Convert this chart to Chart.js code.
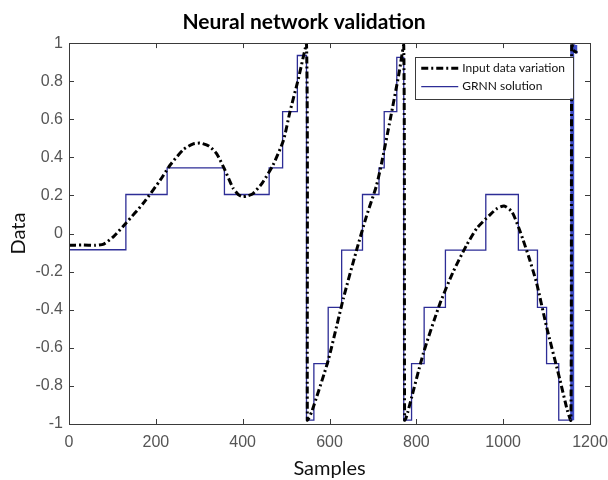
<!DOCTYPE html>
<html>
<head>
<meta charset="utf-8">
<title>Neural network validation</title>
<script src="https://cdn.jsdelivr.net/npm/chart.js@4.4.1/dist/chart.umd.min.js"></script>
<style>
  html, body { margin: 0; padding: 0; background: #fff; }
</style>
</head>
<body>
<canvas id="chart" width="608" height="480"></canvas>
<script>
// ── datos ──
// curva de entrada (línea discontinua negra)
const inputX = [0, 30, 60, 80, 102, 131, 171, 210, 233, 263, 285, 302, 322, 340, 359, 378, 390, 400, 412, 424, 445, 470, 494, 509, 528, 547,
  549, 552, 560, 597, 632, 662, 685, 708, 720, 740, 760, 771,
  773, 776, 780, 816, 854, 885, 916, 940, 969, 985, 1002, 1020, 1035, 1046, 1060, 1077, 1100, 1131, 1148, 1156,
  1158, 1163, 1170];
const inputY = [-0.062, -0.06, -0.062, -0.055, -0.017, 0.054, 0.159, 0.28, 0.36, 0.44, 0.47, 0.475, 0.46, 0.42, 0.334, 0.238, 0.205, 0.194, 0.198, 0.21, 0.265, 0.36, 0.49, 0.64, 0.81, 1.0,
  -0.98, -0.97, -0.93, -0.666, -0.34, -0.09, 0.09, 0.25, 0.37, 0.6, 0.84, 0.99,
  -0.98, -0.97, -0.94, -0.63, -0.37, -0.2, -0.06, 0.03, 0.097, 0.13, 0.145, 0.115, 0.036, -0.034, -0.13, -0.26, -0.49, -0.77, -0.93, -0.98,
  1.0, 0.96, 0.95];

// solución GRNN (escalones azules)
const grnnX = [0, 131, 131, 226, 226, 358, 358, 461, 461, 492, 492, 526, 526, 547, 547, 564, 564, 597, 597, 628, 628, 676, 676, 714, 714, 726, 726, 755, 755, 771,
  771, 789, 789, 818, 818, 867, 867, 960, 960, 1035, 1035, 1079, 1079, 1100, 1100, 1128, 1128, 1159, 1159, 1166, 1166, 1172];
const grnnY = [-0.085, -0.085, 0.205, 0.205, 0.345, 0.345, 0.205, 0.205, 0.345, 0.345, 0.64, 0.64, 0.935, 0.935, -0.98, -0.98, -0.683, -0.683, -0.388, -0.388, -0.087, -0.087, 0.205, 0.205, 0.345, 0.345, 0.64, 0.64, 0.925, 0.925,
  -0.98, -0.98, -0.683, -0.683, -0.388, -0.388, -0.087, -0.087, 0.205, 0.205, -0.087, -0.087, -0.388, -0.388, -0.683, -0.683, -0.98, -0.98, 0.99, 0.99, 0.95, 0.95];

const seriesLabels = ['Input data variation', 'GRNN solution'];
const xRange = [0, 1200];
const yRange = [-1, 1];
const xStep = 200;
const yStep = 0.2;

const toPoints = (xs, ys) => xs.map((x, i) => ({ x, y: ys[i] }));

const AXIS_COLOR = '#3a3a3a';
const TICK_COLOR = '#555';
const BLUE = '#2d2d96';

/* ─── marco y marcas hacia dentro (estilo MATLAB) ─── */
const frameTicks = {
  id: 'frameTicks',
  afterDatasetsDraw(chart) {
    const { ctx, chartArea: a, scales: { x, y } } = chart;
    ctx.save();
    ctx.strokeStyle = AXIS_COLOR;
    ctx.lineWidth = 1;
    ctx.strokeRect(Math.round(a.left) + 0.5, Math.round(a.top) + 0.5, Math.round(a.width), Math.round(a.height));
    const len = 5;
    ctx.beginPath();
    x.ticks.forEach(t => {
      const px = Math.round(x.getPixelForValue(t.value)) + 0.5;
      ctx.moveTo(px, a.bottom); ctx.lineTo(px, a.bottom - len);
      ctx.moveTo(px, a.top); ctx.lineTo(px, a.top + len);
    });
    y.ticks.forEach(t => {
      const py = Math.round(y.getPixelForValue(t.value)) + 0.5;
      ctx.moveTo(a.left, py); ctx.lineTo(a.left + len, py);
      ctx.moveTo(a.right, py); ctx.lineTo(a.right - len, py);
    });
    ctx.stroke();
    ctx.restore();
  }
};

/* ─── leyenda dentro del área, arriba a la derecha ─── */
const boxLegend = {
  id: 'boxLegend',
  afterDraw(chart) {
    const { ctx, chartArea: a } = chart;
    const sets = chart.data.datasets;
    ctx.save();
    ctx.font = '12px Lato';
    const textW = Math.max(...sets.map(d => ctx.measureText(d.label).width));
    const sampleW = 37, rowH = 18.4;
    const w = 6 + sampleW + 4 + textW + 8;
    const h = 5 + rowH * sets.length;
    const right = a.right - 17, top = a.top + 13.5;
    const left = right - w;
    ctx.fillStyle = '#fff';
    ctx.fillRect(left, top, w, h);
    ctx.strokeStyle = AXIS_COLOR;
    ctx.lineWidth = 1;
    ctx.strokeRect(Math.round(left) + 0.5, Math.round(top) + 0.5, Math.round(w), Math.round(h));
    sets.forEach((d, i) => {
      const cy = top + 11.6 + i * rowH;
      ctx.beginPath();
      ctx.strokeStyle = d.borderColor;
      ctx.lineWidth = d.borderWidth;
      ctx.setLineDash(d.borderDash || []);
      ctx.moveTo(left + 6, cy);
      ctx.lineTo(left + 6 + sampleW, cy);
      ctx.stroke();
      ctx.setLineDash([]);
      ctx.fillStyle = '#111';
      ctx.textBaseline = 'middle';
      ctx.fillText(d.label, left + 6 + sampleW + 4, cy);
    });
    ctx.restore();
  }
};

new Chart(document.getElementById('chart'), {
  type: 'scatter',
  data: {
    datasets: [
      {
        label: seriesLabels[0],
        data: toPoints(inputX, inputY),
        showLine: true,
        borderColor: '#000',
        borderWidth: 3,
        borderDash: [7, 3, 2, 3],
        pointRadius: 0,
        tension: 0.2,
        order: 0
      },
      {
        label: seriesLabels[1],
        data: toPoints(grnnX, grnnY),
        showLine: true,
        borderColor: BLUE,
        borderWidth: 1.3,
        pointRadius: 0,
        order: 1,
        segment: {
          borderWidth: c => (c.p0.parsed.x === c.p1.parsed.x && c.p0.parsed.x > 1150 && c.p1.parsed.y > 0.5) ? 4 : undefined,
          borderColor: c => (c.p0.parsed.x === c.p1.parsed.x && c.p0.parsed.x > 1150 && c.p1.parsed.y > 0.5) ? '#3e4cc6' : undefined
        }
      }
    ]
  },
  options: {
    responsive: false,
    animation: false,
    devicePixelRatio: 1,
    layout: { padding: 0 },
    plugins: {
      legend: { display: false },
      tooltip: { enabled: false },
      title: {
        display: true,
        text: 'Neural network validation',
        color: '#000',
        font: { family: 'Lato', size: 21, weight: 'bold', lineHeight: 1.1 },
        padding: { top: 11, bottom: 9 }
      }
    },
    scales: {
      x: {
        type: 'linear',
        min: xRange[0],
        max: xRange[1],
        grid: { display: false, drawTicks: false },
        border: { display: false },
        ticks: {
          stepSize: xStep,
          color: TICK_COLOR,
          padding: 9,
          maxRotation: 0,
          font: { family: 'Liberation Sans', size: 16 },
          callback: v => String(v)
        },
        title: {
          display: true,
          text: 'Samples',
          color: '#111',
          font: { family: 'Lato', size: 20, lineHeight: 1 },
          padding: { top: 0, bottom: 1 }
        },
        // alto fijo y margen derecho fijo para que el área llegue a x=590
        afterFit: s => { s.height = 56; s.paddingLeft = 0; s.paddingRight = 18; }
      },
      y: {
        min: yRange[0],
        max: yRange[1],
        grid: { display: false, drawTicks: false },
        border: { display: false },
        ticks: {
          stepSize: yStep,
          color: TICK_COLOR,
          padding: 6,
          font: { family: 'Liberation Sans', size: 16 },
          callback: v => String(+v.toFixed(1))
        },
        title: {
          display: true,
          text: 'Data',
          color: '#111',
          font: { family: 'Lato', size: 20, lineHeight: 1.2 },
          padding: { top: 7, bottom: 0 }
        },
        afterFit: s => { s.width = 69; }
      }
    }
  },
  plugins: [frameTicks, boxLegend]
});
</script>
</body>
</html>
